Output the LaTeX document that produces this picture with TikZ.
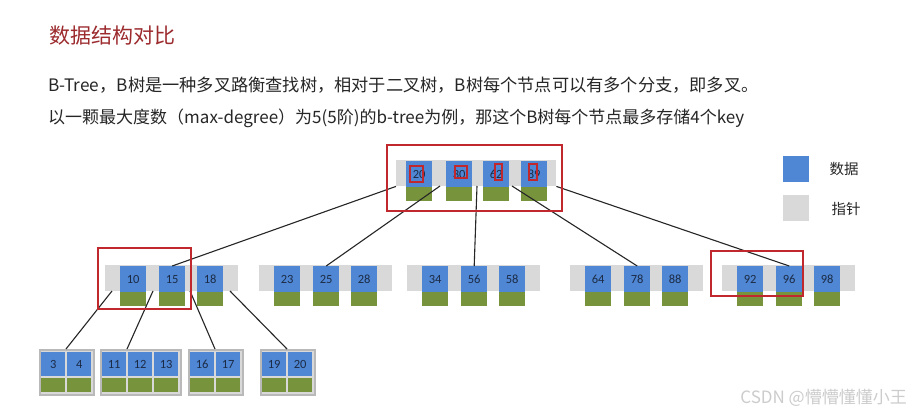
\documentclass[tikz,border=0pt]{standalone}
\usepackage{fontspec}
\setmainfont{Noto Sans CJK SC}
\newfontfamily\numfont{Carlito}
\definecolor{keyblue}{HTML}{4F87D4}
\definecolor{keytext}{HTML}{1C2B45}
\definecolor{ptrgray}{HTML}{D9D9D9}
\definecolor{subgreen}{HTML}{77933C}
\definecolor{markred}{HTML}{C0282D}
\definecolor{titlered}{HTML}{9C2B2E}
\definecolor{bodytext}{HTML}{262626}

\begin{document}
\begin{tikzpicture}[x=1pt,y=-1pt,
    ptrbar/.style={fill=ptrgray,anchor=north west,inner sep=0,minimum height=26pt},
    keybox/.style={fill=keyblue,anchor=north west,inner sep=0,minimum width=26pt,minimum height=26pt,
                   text=keytext,font=\numfont\fontsize{12.5}{13}\selectfont},
    subbox/.style={fill=subgreen,anchor=north west,inner sep=0,minimum width=26pt,minimum height=14pt},
    leafbar/.style={fill=ptrgray,draw=gray!55,line width=1.5pt,anchor=north west,inner sep=0,minimum height=45pt},
    leafkey/.style={keybox,minimum width=24pt,minimum height=24pt},
    leafsub/.style={subbox,minimum width=24pt},
    markbox/.style={draw=markred,line width=1.5pt},
    smallmark/.style={draw=markred,line width=1.2pt},
    link/.style={draw=black!85,line width=1.1pt}]

\fill[white] (0,0) rectangle (911,415);
\useasboundingbox (0,0) rectangle (911,415);

% heading and text
\node[anchor=west,inner sep=0,text=titlered,font=\fontsize{21}{25}\selectfont] (title) at (49,36) {数据结构对比};
\node[anchor=west,inner sep=0,text=bodytext,font=\fontsize{17.2}{20}\selectfont] (line1) at (48,85)
    {B-Tree，B树是一种多叉路衡查找树，相对于二叉树，B树每个节点可以有多个分支，即多叉。};
\node[anchor=west,inner sep=0,text=bodytext,font=\fontsize{17}{20}\selectfont] (line2) at (48,118)
    {以一颗最大度数（max-degree）为5(5阶)的b-tree为例，那这个B树每个节点最多存储4个key};

% root
\node[ptrbar,minimum width=160pt] (root) at (396,160) {};
\foreach \k/\x in {20/10,30/50,62/87,89/125}{
    \node[keybox] (k\k) at (396+\x,161) {\k};
    \node[subbox] (s\k) at (396+\x,187) {};
}
\coordinate (r0) at (root.south west);
\coordinate (r1) at (440,186);
\coordinate (r2) at (477,186);
\coordinate (r3) at (512,186);
\coordinate (r4) at (root.south east);

% second level
\foreach \n/\l/\a/\b/\c in {a/105/10/15/18,b/259/23/25/28,c/407/34/56/58,d/570/64/78/88,e/722/92/96/98}{
    \node[ptrbar,minimum width=133pt] (\n) at (\l,265) {};
    \node[keybox] (\n1) at (\l+15,266) {\a};
    \node[keybox] (\n2) at (\l+54,266) {\b};
    \node[keybox] (\n3) at (\l+92,266) {\c};
    \node[subbox] (\n1s) at (\l+15,292) {};
    \node[subbox] (\n2s) at (\l+54,292) {};
    \node[subbox] (\n3s) at (\l+92,292) {};
}
\coordinate (p0) at (112,291);
\coordinate (p1) at (153,291);
\coordinate (p2) at (190,291);
\coordinate (p3) at (230,291);

% leaves
\foreach \i/\l/\w in {1/39/54,2/100/80,3/188/54,4/260/54}{
    \node[leafbar,minimum width=\w pt] (lf\i) at (\l,349) {};
    \coordinate (t\i) at (\l+27,349);
}
\foreach \i/\k/\x in {1/3/41,1/4/67,2/11/102,2/12/128,2/13/154,3/16/190,3/17/216,4/19/262,4/20/288}{
    \node[leafkey] (m\k) at (\x,352) {\k};
    \node[leafsub] (n\k) at (\x,378) {};
}

% links
\path[link] (r0) edge (a2.north)
            (r1) edge (b2.north)
            (r2) edge (c2.north)
            (r3) edge (d2.north)
            (r4) edge (e2.north);
\path[link] (p0) edge (t1)
            (p1) edge (t2)
            (p2) edge (t3)
            (p3) edge (t4);

% red marks
\draw[markbox] (387,145) rectangle (562,211);
\draw[markbox] (98,248) rectangle (191,309);
\draw[markbox] (711,251) rectangle (803,296);
\draw[smallmark] (410,166) rectangle (423,182);
\draw[smallmark] (455,166) rectangle (467,178);
\draw[smallmark] (495,164) rectangle (502,180);
\draw[smallmark] (529,164) rectangle (537,180);

% legend
\node[fill=keyblue,anchor=north west,inner sep=0,minimum size=26pt] (legkey) at (783,156) {};
\node[fill=ptrgray,anchor=north west,inner sep=0,minimum size=26pt] (legptr) at (783,195) {};
\node[text=bodytext,font=\fontsize{14.5}{17}\selectfont] (legkeytxt) at (844,169) {数据};
\node[text=bodytext,font=\fontsize{14.5}{17}\selectfont] (legptrtxt) at (846,209) {指针};

% watermark
\node[anchor=east,inner sep=0,text=gray!40,font=\fontsize{17}{20}\selectfont] (mark) at (907,398) {CSDN @懵懵懂懂小王};
\end{tikzpicture}
\end{document}
